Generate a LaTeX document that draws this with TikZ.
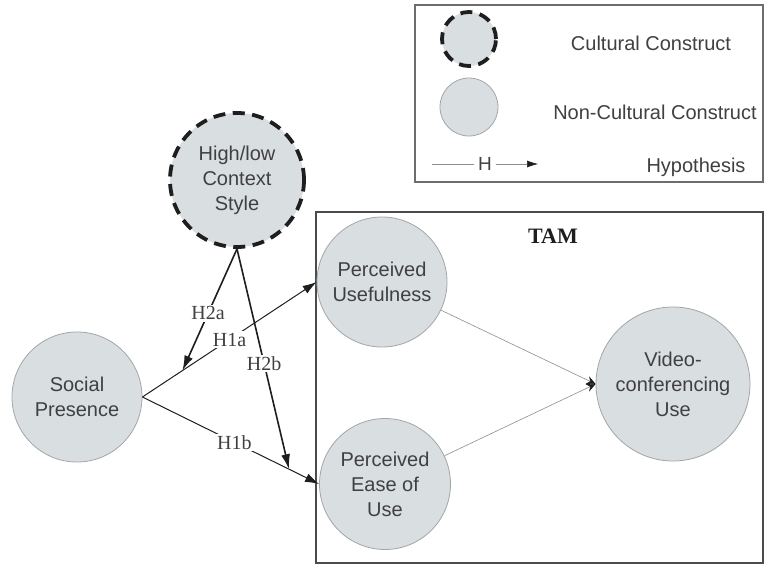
\documentclass[tikz,border=0pt]{standalone}
\usepackage{fontspec}
\setmainfont{Liberation Sans}
\newfontfamily\serifface{Liberation Serif}
\usepackage{xcolor}
\usepackage{tikz}
\usetikzlibrary{arrows.meta,positioning}
\definecolor{ModelFill}{HTML}{D9DEE1}
\definecolor{ModelEdge}{HTML}{A3A6A8}
\definecolor{ModelDark}{HTML}{1E1E1E}
\definecolor{ModelGrey}{HTML}{8E8E8E}
\tikzset{
  construct/.style={
    circle,
    draw=ModelEdge,
    line width=0.8pt,
    fill=ModelFill,
    inner sep=0pt,
    align=center,
    text=ModelDark!85,
    font=\fontsize{20}{25}\selectfont
  },
  cultural/.style={
    construct,
    draw=ModelDark,
    line width=3.8pt,
    dash pattern=on 12pt off 7.5pt
  },
  hypo/.style={-{Latex[length=15pt,width=9pt]},line width=1.6pt,draw=ModelDark},
  hypothin/.style={-{Latex[length=14pt,width=9pt]},line width=1pt,draw=ModelDark},
  tamarrow/.style={-{Stealth[length=9pt,width=8pt,color=ModelDark]},line width=0.6pt,draw=ModelGrey},
  hlabel/.style={fill=white,inner sep=1.5pt,text=ModelDark!85,font=\serifface\fontsize{20}{24}\selectfont},
  frame/.style={draw=ModelDark!80,line width=2pt}
}

\begin{document}
\begin{tikzpicture}[x=1pt,y=-1pt]
    \fill[white] (0,0) rectangle (766,565);
    \useasboundingbox (0,0) rectangle (766,565);

    % legend
    \draw[draw=ModelDark!65,line width=1.5pt] (415,5) rectangle (763,182);
    \node[cultural,minimum size=54pt] (legcult) at (469,39) {};
    \node[construct,minimum size=58pt] (legnon) at (469,107) {};
    \node[construct,draw=none,fill=none] (legcultxt) at (651,43) {Cultural Construct};
    \node[construct,draw=none,fill=none] (legnontxt) at (655,112) {Non-Cultural Construct};
    \node[construct,draw=none,fill=none] (leghyptxt) at (696,167) {Hypothesis};
    \coordinate (hstart) at (432,164);
    \coordinate (hend) at (538,164);
    \draw[-{Latex[length=11pt,width=7pt,color=ModelDark]},line width=0.6pt,draw=ModelGrey] (hstart) -- node[construct,draw=none,fill=white,inner sep=1pt,font=\fontsize{19}{22}\selectfont] {H} (hend);

    % TAM block
    \draw[frame] (316,212) rectangle (763,563);
    \node[font=\serifface\bfseries\fontsize{22}{26}\selectfont,text=ModelDark] (tam) at (553,236) {TAM};

    \node[construct,minimum size=130pt] (pu) at (382,282) {Perceived\\Usefulness};
    \node[construct,minimum size=131pt] (peou) at (385,484) {Perceived\\Ease of\\Use};
    \node[construct,minimum size=154pt] (vcu) at (673,384) {Video-\\conferencing\\Use};

    \node[construct,minimum size=130pt] (sp) at (77,397) {Social\\Presence};
    \node[cultural,minimum size=134pt] (hl) at (237,180) {High/low\\Context\\Style};

    \draw[tamarrow] (pu) -- (vcu.west);
    \draw[tamarrow] (peou) -- (vcu.west);

    \draw[hypothin] (sp.east) -- node[hlabel,pos=0.5] {H1a} coordinate[pos=0.23] (mod1a) (pu.west);
    \draw[hypothin] (sp.east) -- node[hlabel,pos=0.52] {H1b} coordinate[pos=0.83] (mod1b) (peou.west);

    \draw[hypo] (hl.south) -- node[hlabel,pos=0.53] {H2a} (mod1a);
    \draw[hypo] (hl.south) -- node[hlabel,pos=0.52] {H2b} (mod1b);
\end{tikzpicture}
\end{document}
